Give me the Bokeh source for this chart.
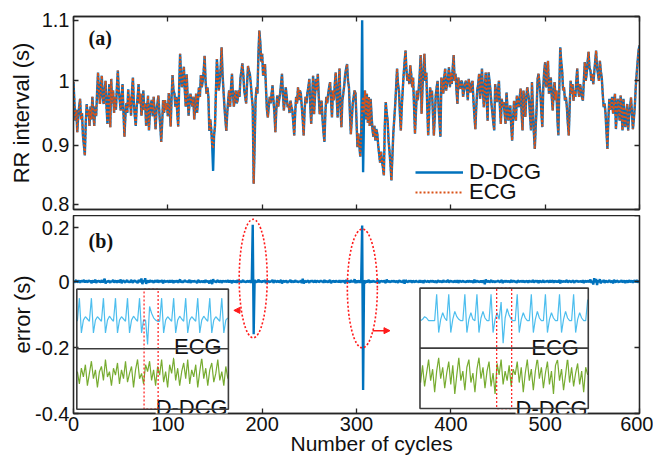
import numpy as np
from bokeh.plotting import figure
from bokeh.models import (Range1d, LinearAxis, FixedTicker, Legend, LegendItem,
                          Label, Arrow, NormalHead, Title)
from bokeh.layouts import column
from bokeh.embed import file_html
from bokeh.resources import INLINE

# ---------------- data ----------------
cycle_ticks = [0, 100, 200, 300, 400, 500, 600]
rr_ticks = [0.8, 0.9, 1.0, 1.1]
err_ticks = [-0.4, -0.2, 0.0, 0.2]
# where the reference prints its end tick labels (nudged inward like the original)
rr_label_pos = {0.808: "0.8", 0.9: "0.9", 1.0: "1", 1.094: "1.1"}
err_label_pos = {-0.4: "-0.4", -0.2: "-0.2", 0.0: "0", 0.163: "0.2"}

# ECG-derived RR interval (s), one value per cycle
rr_ecg = [
    0.998, 0.965, 0.938, 0.955, 0.920, 0.945, 0.960, 0.972, 0.940, 0.950,
    0.915, 0.900, 0.884, 0.935, 0.964, 0.945, 0.955, 0.930, 0.960, 0.940,
    0.975, 0.950, 0.930, 0.960, 0.945, 0.982, 1.013, 0.985, 0.964, 0.990,
    1.008, 0.975, 0.964, 0.985, 1.000, 0.960, 0.933, 0.970, 0.995, 0.928,
    1.003, 0.965, 0.985, 0.950, 0.975, 0.955, 0.990, 1.016, 0.985, 0.970,
    0.954, 0.975, 0.995, 0.950, 0.913, 0.945, 0.965, 0.950, 0.987, 0.960,
    0.975, 0.946, 0.985, 1.005, 0.965, 0.945, 0.930, 0.960, 0.975, 0.995,
    0.965, 0.980, 0.946, 0.960, 0.985, 0.955, 0.965, 0.930, 0.955, 0.977,
    0.923, 0.950, 0.965, 0.970, 0.945, 0.975, 0.950, 0.925, 0.955, 0.965,
    0.977, 0.950, 0.930, 0.905, 0.935, 0.970, 0.950, 0.970, 0.955, 0.965,
    0.945, 0.981, 0.955, 0.929, 0.975, 1.009, 0.985, 0.980, 0.960, 0.975,
    0.950, 0.929, 0.990, 1.042, 1.010, 0.990, 1.005, 1.022, 0.985, 0.960,
    1.010, 0.975, 0.946, 0.965, 0.980, 0.970, 0.960, 0.975, 0.940, 0.960,
    0.980, 0.950, 0.970, 0.990, 0.975, 1.009, 0.990, 1.000, 1.015, 1.039,
    1.000, 0.980, 0.990, 0.975, 0.922, 0.940, 0.925, 0.900, 0.895, 0.915,
    0.930, 0.985, 1.034, 1.010, 0.985, 1.000, 1.020, 1.052, 1.010, 0.985,
    0.960, 0.940, 0.922, 0.950, 0.970, 0.985, 0.960, 0.990, 1.011, 0.980,
    0.960, 0.975, 0.985, 0.965, 0.970, 0.985, 0.975, 1.005, 1.015, 1.027,
    1.010, 0.985, 0.975, 0.965, 0.995, 1.023, 1.015, 1.010, 0.995, 0.975,
    0.960, 0.840, 0.900, 0.970, 0.990, 0.980, 1.040, 1.078, 1.060, 1.030,
    1.042, 1.008, 1.015, 1.026, 0.990, 0.956, 0.943, 0.960, 0.975, 0.965,
    0.980, 0.993, 0.969, 0.950, 0.920, 0.955, 0.977, 0.960, 0.970, 0.980,
    0.995, 1.011, 0.980, 0.954, 0.970, 0.990, 0.975, 0.959, 0.964, 0.950,
    0.969, 0.960, 0.954, 0.935, 0.915, 0.950, 0.975, 0.965, 0.990, 0.970,
    0.985, 0.980, 0.960, 0.940, 0.915, 0.955, 0.975, 0.965, 0.982, 0.990,
    1.003, 0.960, 0.933, 0.975, 1.008, 0.948, 0.975, 1.003, 0.985, 1.011,
    0.975, 0.948, 0.960, 0.969, 0.940, 0.920, 0.905, 0.950, 0.975, 0.965,
    0.980, 0.990, 0.998, 0.970, 0.943, 0.985, 0.970, 0.995, 1.013, 0.975,
    0.943, 0.990, 1.019, 0.960, 0.928, 0.969, 0.980, 0.993, 1.010, 1.019,
    1.026, 1.000, 0.990, 0.950, 0.917, 0.940, 0.964, 0.975, 0.985, 0.980,
    0.938, 0.897, 0.918, 0.900, 0.882, 0.913, 0.960, 0.975, 0.950, 0.985,
    0.940, 0.980, 0.935, 0.975, 0.930, 0.972, 0.945, 0.923, 0.913, 0.930,
    0.907, 0.925, 0.918, 0.900, 0.886, 0.873, 0.890, 0.876, 0.865, 0.853,
    0.930, 0.967, 0.950, 0.938, 0.907, 0.890, 0.870, 0.845, 0.880, 0.918,
    0.940, 0.962, 0.990, 1.019, 0.995, 0.985, 0.950, 0.923, 0.960, 0.985,
    1.010, 1.030, 1.047, 1.015, 1.000, 1.011, 0.995, 1.024, 1.010, 0.990,
    1.005, 0.960, 0.918, 0.950, 0.985, 0.970, 0.988, 1.010, 1.040, 0.949,
    0.990, 1.020, 1.042, 1.000, 1.013, 0.960, 0.915, 0.950, 0.990, 0.975,
    0.985, 0.950, 0.915, 0.945, 0.977, 0.990, 1.000, 0.960, 0.935, 0.913,
    1.005, 0.995, 0.980, 1.005, 1.019, 0.985, 0.995, 1.005, 1.021, 0.990,
    1.013, 0.995, 1.020, 1.040, 1.000, 1.011, 0.985, 0.964, 1.005, 0.990,
    0.988, 1.000, 0.998, 0.975, 0.985, 0.995, 1.000, 0.988, 0.970, 1.003,
    0.990, 0.982, 0.995, 1.000, 0.969, 0.945, 0.925, 0.960, 0.985, 0.995,
    1.011, 0.972, 0.990, 1.019, 0.985, 0.959, 0.990, 1.013, 0.970, 0.938,
    1.013, 1.000, 0.985, 0.965, 0.951, 0.935, 0.923, 0.995, 0.980, 0.967,
    0.985, 1.000, 0.960, 0.933, 0.972, 0.960, 0.967, 0.950, 0.933, 0.982,
    0.960, 0.938, 0.950, 0.962, 0.930, 0.907, 0.940, 0.969, 0.950, 0.938,
    0.977, 0.965, 0.959, 0.975, 0.988, 0.950, 0.923, 0.985, 0.965, 0.944,
    0.975, 0.990, 0.980, 0.969, 0.945, 0.923, 0.998, 0.960, 0.920, 0.894,
    0.930, 0.959, 1.003, 1.011, 0.995, 0.980, 0.950, 0.928, 0.990, 1.016,
    1.029, 0.990, 1.000, 1.031, 0.980, 0.995, 1.005, 0.975, 0.954, 0.985,
    0.998, 0.970, 0.985, 0.940, 0.915, 0.990, 1.052, 1.030, 1.016, 0.985,
    0.990, 0.969, 0.975, 0.959, 0.935, 0.915, 0.960, 1.000, 0.980, 0.995,
    0.969, 0.985, 0.975, 1.000, 1.019, 0.988, 0.975, 0.995, 0.985, 0.975,
    0.969, 1.000, 1.029, 1.000, 1.011, 1.030, 1.045, 1.020, 1.016, 1.000,
    1.011, 0.995, 1.013, 1.030, 1.047, 1.020, 1.011, 1.000, 1.031, 1.015,
    1.005, 0.980, 0.959, 0.965, 0.949, 0.920, 0.894, 0.940, 0.972, 0.955,
    0.964, 0.975, 0.949, 0.965, 0.980, 0.925, 0.950, 0.972, 0.955, 0.938,
    0.977, 0.950, 0.923, 0.972, 0.945, 0.928, 0.950, 0.964, 0.923, 0.945,
    0.959, 0.974, 0.950, 0.925, 0.940, 0.959, 0.990, 1.011, 1.030, 1.047,
    1.055,
]

# D-DCG RR interval equals the ECG one except at these cycles
dcg_diff_cycles = [148, 306, 307]
dcg_diff_values = [0.860, 1.094, 0.858]

# error (ms): D-DCG minus ECG RR interval
err_ms = [
    2, -3, 1, 4, -2, 0, 3, -4, 2, 1, -1, 5, -3, 2, 0, -2, 4, -1, 3, -5,
    1, 2, -3, 6, -4, 1, 0, 3, -2, -1, 4, -3, 2, 8, -6, 1, -2, 3, 0, -4,
    2, -1, 5, -3, 1, 2, -4, 3, 0, -2, 6, -5, 1, 3, -1, -3, 2, 4, -2, 0,
    -3, 5, 1, -4, 2, 3, -1, 0, -5, 4, 2, -2, 9, -8, 3, -1, 10, -7, 2, 1,
    -3, 4, -1, 2, 0, -4, 3, 1, -2, 5, -3, 0, 2, -1, 4, -6, 3, 1, -2, 2,
    0, -3, 4, -2, 1, 3, -5, 2, 0, -1, 3, -4, 2, 6, -3, 1, -2, 0, 4, -1,
    2, -3, 1, 5, -4, 0, 2, -2, 3, -1, 1, -5, 4, 2, -3, 1, 0, -2, 3, -4,
    5, -2, 1, 0, -6, 3, 2, -8, 7, -1, 2, -3, 1, 4, -2, 0, 3, -4, 1, 2,
    -2, 3, -1, 0, 4, -3, 2, 1, -5, 3, 0, -1, 2, -4, 5, -2, 1, 0, -3, 2,
    4, -2, 1, -3, 2, 0, -1, 3, -4, 6, 172, -160, 5, -4, 2, -3, 6, -2, 1, 0,
    -2, 3, -1, 4, -5, 2, 0, 1, -3, 2, -1, 5, -4, 1, 3, -2, 0, 2, -3, 1,
    4, -6, 2, 1, -2, 3, 0, -4, 2, -1, 5, -3, 1, 0, -2, 4, -1, 2, -3, 1,
    -1, 3, -5, 8, -6, 2, 0, -2, 3, 1, -4, 2, 0, 3, -1, -2, 4, -3, 1, 2,
    -2, 0, 3, -1, 2, -4, 5, -2, 0, 1, -3, 2, 4, -5, 1, 0, 2, -3, 3, -1,
    1, -2, 4, -3, 0, 2, -1, 3, -6, 5, -2, 1, 0, -3, 4, -1, 2, -2, 7, -5,
    3, -4, 2, 1, -3, 5, 170, -329, 4, -6, 3, -2, 1, 5, -4, 2, -1, 0, 3, -2,
    1, -3, 2, 4, -5, 1, 0, 2, -2, 3, -1, -4, 6, -2, 1, 0, -3, 2, 1, -1,
    3, -2, 0, 1, -4, 3, 2, -1, 0, -3, 5, -7, 4, 1, -2, 0, 2, -1, 3, -4,
    2, 0, -2, 3, -1, 1, -3, 4, -2, 0, 2, -5, 3, 1, -1, 0, 2, -3, 1, 2,
    -1, 3, -2, 0, 1, -4, 2, 3, -2, 1, 0, -3, 4, -1, 2, -2, 1, 5, -3, 0,
    2, -1, 1, -3, 3, 0, -2, 4, -4, 1, 2, -1, 0, 3, -2, 1, -3, 2, 0, -1,
    3, -2, 1, 0, -4, 6, -3, 1, 2, -1, 0, -2, 3, -3, 1, 2, -8, 6, -1, 0,
    2, -3, 1, 4, -2, 0, 1, -3, 2, -1, 3, 0, -2, 1, 4, -5, 2, 0, -1, 3,
    -2, 1, 0, -3, 5, -2, 1, 2, -1, 0, -4, 3, 1, -2, 2, 0, -1, 3, -3, 1,
    0, 2, -4, 3, -1, 1, -2, 5, -3, 0, 2, -1, 3, -5, 2, 1, -2, 0, 4, -3,
    1, -1, 2, 0, -3, 4, -2, 1, 3, -4, 2, 0, -1, 2, -3, 5, -6, 3, 0, -1,
    2, -2, 1, 4, -3, 0, 2, -1, -2, 3, 1, -4, 2, 0, 3, -2, 1, -1, 2, -3,
    4, -5, 2, 1, -2, 3, -1, 0, 6, -4, 2, -9, 10, -3, 8, -11, 4, -2, 7, -6,
    3, -2, 5, -4, 1, 2, -3, 0, 4, -1, -2, 3, -6, 5, 0, -2, 3, 1, -3, 2,
    -1, 4, -2, 0, 3, -5, 2, 1, -3, 4, -1, 0, 2, -4, 3, 1, -2, 5, -3, 0,
    2,
]

# inset traces (arbitrary units), left inset (around cycle 190) and right inset (around 306)
ecg_left = [
    0.0, 1.0, -0.5, 0.05, 0.2, 0.1, 0.0, 1.0, -0.5, 0.05, 0.2, 0.1,
    0.0, 1.0, -0.5, 0.05, 0.22, 0.1, 0.0, 1.0, -0.5, 0.05, 0.2, 0.1,
    0.0, 1.0, -0.5, 0.05, 0.22, 0.1, 0.0, 1.0, -0.5, 0.05, 0.05, -1.0,
    0.64, 0.35, 0.15, 0.05, 0.0, 0.0, 1.0, -0.5, 0.05, 0.2, 0.1, 0.0,
    1.0, -0.5, 0.05, 0.22, 0.1, 0.0, 1.0, -0.5, 0.05, 0.2, 0.1, 0.0,
    1.0, -0.5, 0.05, 0.22, 0.1, 0.0, 1.0, -0.5, 0.05, 0.2, 0.1, 0.0,
    1.0, -0.5, 0.05, 0.15,
]
dcg_left = [
    0.2, -0.5, 0.4, -0.1, 0.6, -0.6, 0.1, 0.8, -0.2, 0.3, -0.7, 0.2,
    0.5, -0.3, 0.9, -0.1, 0.2, -0.6, 0.4, 0.0, 0.7, -0.5, 0.3, -0.2,
    0.8, -0.4, 0.1, 0.5, -0.7, 0.3, 0.9, -0.2, 0.1, -0.5, 0.6, 0.2,
    0.8, -0.3, 0.3, -0.6, 0.5, 0.0, 0.9, -0.4, 0.2, -0.7, 0.6, 0.1,
    1.0, -0.3, 0.4, -0.6, 0.2, 0.7, -0.2, 0.9, -0.5, 0.3, -0.1, 0.6,
    -0.7, 0.2, 1.0, -0.2, 0.4, -0.6, 0.3, 0.7, -0.4, 0.1, 0.9, -0.3,
    0.2, -0.6, 0.5, -0.2,
]
ecg_right = [
    0.0, 0.05, 0.15, 0.1, 0.0, 0.0, 0.0, 0.0, 1.0, -0.45, 0.05, 0.3,
    0.1, 0.0, 1.0, -0.45, 0.05, 0.35, 0.15, 0.05, 0.0, 0.0, 1.0, -0.45,
    0.05, 0.3, 0.05, 0.0, 1.0, -0.45, 0.1, 0.35, 0.1, 0.0, 0.0, 1.0,
    -0.45, 0.05, 0.3, 0.05, 0.7, -0.85, 0.1, 0.45, 0.2, 0.05, 0.0, 0.0,
    1.0, -0.45, 0.05, 0.3, 0.1, 0.0, 0.0, 1.0, -0.45, 0.05, 0.35, 0.1,
    0.0, 0.0, 1.0, -0.45, 0.05, 0.3, 0.1, 0.0, 0.0, 1.0, -0.45, 0.05,
    0.35, 0.1, 0.0, 0.0, 1.0, -0.45, 0.05, 0.3, 0.1, 0.0, 0.0, 0.8,
]
dcg_right = [
    -0.3, 0.6, -0.5, 0.2, 0.9, -0.2, 0.4, -0.8, 0.3, 1.0, -0.1, 0.5,
    -0.6, 0.2, 0.8, -0.4, 0.6, -0.9, 0.1, 1.0, -0.2, 0.3, -0.7, 0.5,
    0.9, -0.3, 0.2, -0.8, 0.4, 1.0, -0.1, 0.5, -0.6, 0.3, 0.8, -0.5,
    0.2, -0.9, 0.7, 0.1, 0.9, -0.4, 0.3, -0.2, 0.6, -0.5, 0.4, 0.1,
    0.8, -0.3, 0.5, -0.8, 0.2, 0.9, -0.2, 0.4, -0.7, 0.3, 1.0, -0.1,
    0.5, -0.6, 0.2, 0.8, -0.4, 0.3, -0.9, 0.6, 0.9, -0.2, 0.4, -0.7,
    0.1, 1.0, -0.3, 0.5, -0.5, 0.2, 0.7, -0.4, 0.3, -0.8, 0.5, 0.1,
]

# ---------------- styling / layout ----------------
BLUE = "#0072BD"
ORANGE = "#D95319"
LBLUE = "#4DBEEE"
GREEN = "#77AC30"
RED = "#FF1A1A"
AX = "#262626"
TXT = "#111111"
SANS = "Liberation Sans"
SERIF = "Liberation Serif"

cycles = np.arange(len(rr_ecg))
rr_dcg = list(rr_ecg)
for c, v in zip(dcg_diff_cycles, dcg_diff_values):
    rr_dcg[c] = v
err = np.array(err_ms) / 1000.0
err_x = np.arange(len(err))

W = 653
ML, MR = 73, 14


def style_axis(ax, ticks, labels=None, standoff=4):
    ax.ticker = FixedTicker(ticks=list(ticks))
    ax.major_tick_in = 5
    ax.major_tick_out = 0
    ax.minor_tick_in = 0
    ax.minor_tick_out = 0
    ax.axis_line_color = AX
    ax.axis_line_width = 1.3
    ax.major_tick_line_color = AX
    ax.major_tick_line_width = 1.3
    if labels is not False:
        ax.major_label_text_font = SANS
        ax.major_label_text_font_size = "20px"
        ax.major_label_text_color = TXT
        ax.major_label_standoff = standoff
        if labels:
            ax.major_label_overrides = labels
    else:
        ax.major_label_text_font_size = "1px"
        ax.major_label_overrides = {t: "" for t in ticks}
        ax.major_label_standoff = 0


def base_fig(height, yr, top, bottom):
    p = figure(width=W, height=height, x_range=Range1d(0, 600), y_range=yr,
               output_backend="svg", toolbar_location=None,
               min_border_left=ML, min_border_right=MR,
               min_border_top=top, min_border_bottom=bottom)
    p.xgrid.visible = False
    p.ygrid.visible = False
    p.outline_line_color = AX
    p.outline_line_width = 1.3
    p.add_layout(LinearAxis(), "right")
    return p


def y_label(ax, text, standoff):
    ax.axis_label = text
    ax.axis_label_text_font = SANS
    ax.axis_label_text_font_size = "22px"
    ax.axis_label_text_font_style = "normal"
    ax.axis_label_text_color = TXT
    ax.axis_label_standoff = standoff


# ---- top panel ----
p1 = base_fig(215, Range1d(0.8, 1.1), 16, 6)
p1.add_layout(LinearAxis(), "above")
style_axis(p1.below[0], cycle_ticks, labels=False)
style_axis(p1.above[0], cycle_ticks, labels=False)
style_axis(p1.left[0], list(rr_label_pos.keys()), labels=rr_label_pos)
style_axis(p1.right[0], rr_ticks, labels=False)
y_label(p1.left[0], "RR interval (s)", 5)

r_dcg = p1.line(cycles, rr_dcg, line_color=BLUE, line_width=2.4)
r_ecg = p1.line(cycles, rr_ecg, line_color=ORANGE, line_width=2, line_dash="2 2")

for item, loc in ((LegendItem(label="D-DCG", renderers=[r_dcg]), (342, 24)),
                  (LegendItem(label="ECG", renderers=[r_ecg]), (342, 4))):
    p1.add_layout(Legend(items=[item], location=loc, orientation="vertical",
                         glyph_width=48, glyph_height=18, label_height=18,
                         spacing=0, padding=0, margin=0, label_standoff=6,
                         label_text_font=SANS, label_text_font_size="22px",
                         label_text_color=TXT,
                         border_line_alpha=0, background_fill_alpha=0), "center")
p1.add_layout(Label(x=16, y=1.083, text="(a)", text_font=SERIF,
                    text_font_style="bold", text_font_size="20px",
                    text_baseline="top", text_color=TXT))

# ---- bottom panel ----
p2 = base_fig(244, Range1d(-0.4, 0.2), 0, 46)
style_axis(p2.below[0], cycle_ticks, labels=None, standoff=3)
style_axis(p2.left[0], list(err_label_pos.keys()), labels=err_label_pos)
style_axis(p2.right[0], err_ticks, labels=False)
y_label(p2.left[0], "error (s)", -3)
# x-axis title, placed like the reference (a little right of centre)
p2.add_layout(Title(text="Number of cycles", align="left", offset=217,
                    standoff=-8, text_font=SANS, text_font_size="21px",
                    text_font_style="normal", text_color=TXT), "below")

p2.line(err_x, err, line_color=BLUE, line_width=2.4)
p2.add_layout(Label(x=16, y=0.155, text="(b)", text_font=SERIF,
                    text_font_style="bold", text_font_size="20px",
                    text_baseline="top", text_color=TXT))

# highlight ellipses and arrows
p2.ellipse(x=[190.5, 306.2], y=[0.009, -0.021], width=[29.7, 31.8],
           height=[0.359, 0.36], fill_alpha=0, line_color=RED,
           line_width=1.6, line_dash="2 2")
p2.add_layout(Arrow(end=NormalHead(size=6, fill_color=RED, line_color=RED),
                    x_start=177, y_start=-0.0875, x_end=170, y_end=-0.0875,
                    line_color=RED, line_width=1.5))
p2.add_layout(Arrow(end=NormalHead(size=6, fill_color=RED, line_color=RED),
                    x_start=317, y_start=-0.149, x_end=335.5, y_end=-0.149,
                    line_color=RED, line_width=1.5))

# insets: box, ranges for the traces, highlight, label anchors
insets = [
    (3.5, 164.2, -0.0232, -0.204, -0.387, (-1.19, 1.39), (-1.95, 1.51), 74.8, 89.7,
     ecg_left, dcg_left, 157.1, -0.196, 163.5, -0.383),
    (367.3, 545.7, -0.020, -0.202, -0.385, (-1.04, 1.23), (-1.66, 1.5), 448.6, 464.5,
     ecg_right, dcg_right, 535.8, -0.199, 545.0, -0.386),
]


def place(vals, x0, x1, ylo, yhi, slo, shi):
    v = np.array(vals, dtype=float)
    n = len(v)
    xs = x0 + (x1 - x0) * np.arange(n) / (n - 1)
    ys = ylo + (v - slo) / (shi - slo) * (yhi - ylo)
    return xs, ys


for (x0, x1, yt, ym, yb, er, dr, hx0, hx1, ecg_v, dcg_v,
     ex, ey, dx, dy) in insets:
    p2.quad(left=[x0], right=[x1], top=[yt], bottom=[yb], fill_color="white",
            line_alpha=0)
    xs, ys = place(ecg_v, x0 + 0.6, x1 - 0.6, ym, yt, er[0], er[1])
    p2.line(xs, ys, line_color=LBLUE, line_width=1.2)
    xs, ys = place(dcg_v, x0 + 0.6, x1 - 0.6, yb, ym, dr[0], dr[1])
    p2.line(xs, ys, line_color=GREEN, line_width=1.2)
    p2.add_layout(Label(x=ex, y=ey, text="ECG", text_align="right",
                        text_baseline="alphabetic", text_font=SANS,
                        text_font_size="22px", text_color=TXT,
                        background_fill_color="white"))
    p2.add_layout(Label(x=dx, y=dy, text="D-DCG", text_align="right",
                        text_baseline="alphabetic", text_font=SANS,
                        text_font_size="22px", text_color=TXT,
                        background_fill_color="white"))
    r = p2.quad(left=[hx0], right=[hx1], top=[yt], bottom=[yb], fill_alpha=0,
                line_color=RED, line_width=1.2, line_dash="2 2")
    r.level = "overlay"
    r = p2.quad(left=[x0], right=[x1], top=[yt], bottom=[yb], fill_alpha=0,
                line_color="#3c3c3c", line_width=1.6)
    r.level = "overlay"
    r = p2.segment(x0=[x0], y0=[ym], x1=[x1], y1=[ym], line_color="#3c3c3c",
                   line_width=1.6)
    r.level = "overlay"

layout = column(p1, p2, spacing=0)
open("out.html", "w").write(file_html(layout, INLINE))
